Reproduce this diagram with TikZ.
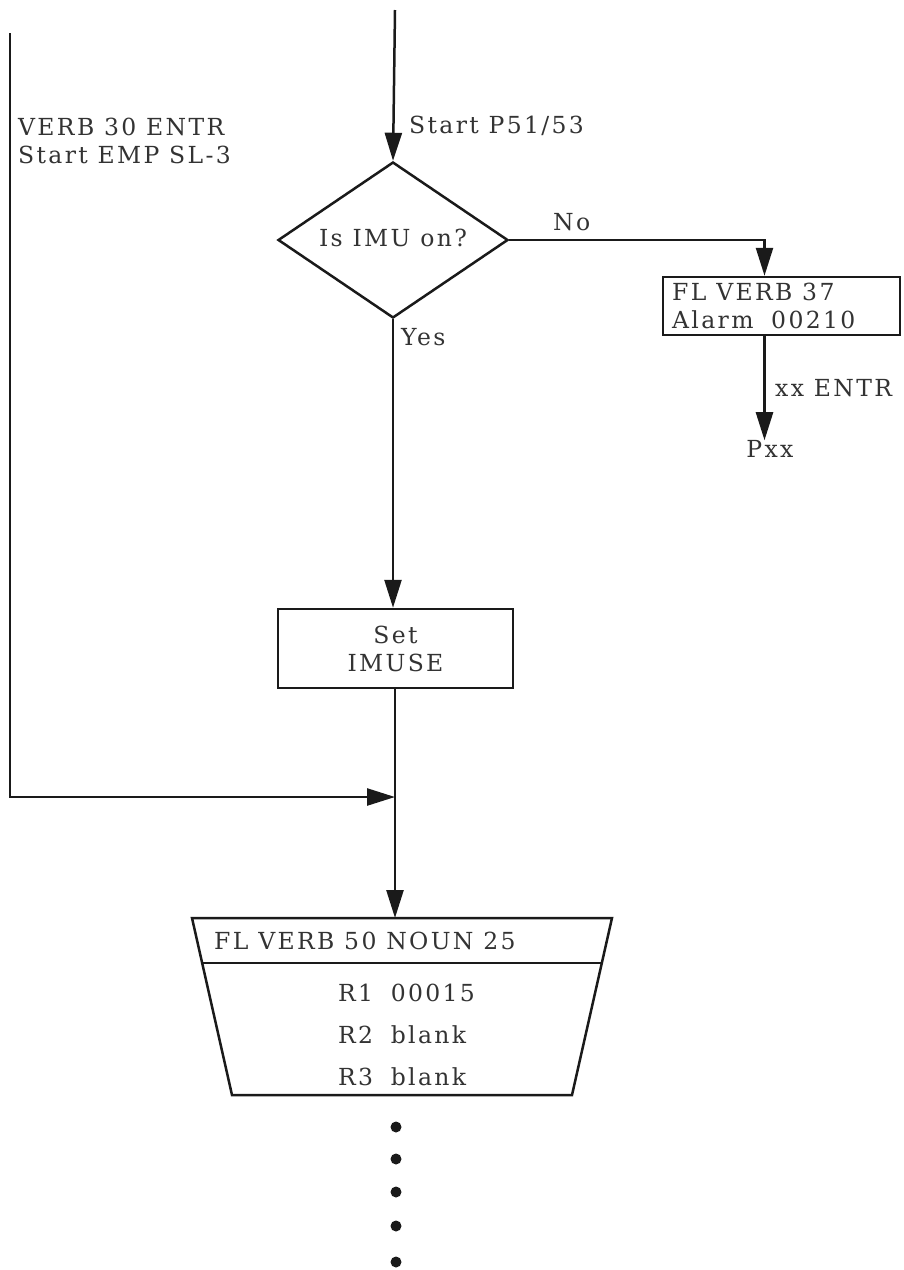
\documentclass[tikz,border=0pt]{standalone}
\usepackage{fontspec}
\setmainfont[LetterSpace=10]{DejaVu Serif}
\usetikzlibrary{shapes.geometric,arrows.meta,calc}
\definecolor{ink}{HTML}{1A1A1A}
\definecolor{txt}{HTML}{333333}
\tikzset{
  line/.style={draw=ink, line width=2.5pt},
  arr/.style={line, -{Triangle[length=28pt,width=17pt]}},
  box/.style={draw=ink, line width=2.5pt, rectangle, inner sep=0pt},
  lbl/.style={text=txt, font=\fontsize{23.5}{28}\selectfont, inner sep=0pt},
  dot/.style={circle, fill=ink, inner sep=0pt, minimum size=11pt}
}
\begin{document}
\begin{tikzpicture}[x=1pt,y=-1pt]
\useasboundingbox (0,0) rectangle (903,1270);
% nodes
\coordinate (top) at (395,10);
\node[draw=ink, line width=2.5pt, diamond, aspect=1.47, minimum width=230pt, minimum height=156pt, inner sep=0pt] (dia) at (393,240) {};
\node[lbl] (diat) at (393,238) {Is IMU on?};
\node[box, minimum width=237pt, minimum height=58pt] (b37) at (781.5,306) {};
\node[lbl, anchor=west, align=left] (b37t) at (672,306) {FL VERB 37\\Alarm\hspace{0.75em}00210};
\node[lbl] (pxx) at (770,449) {Pxx};
\node[box, minimum width=235pt, minimum height=79pt] (imuse) at (395.5,648.5) {};
\node[lbl, align=center] (imuset) at (395.5,649) {Set\\IMUSE};
\coordinate (lt) at (10,33);
\coordinate (merge) at (395,797);
% display trapezoid
\coordinate (tl) at (192,918);
\coordinate (tr) at (612,918);
\coordinate (br) at (572,1095);
\coordinate (bl) at (232,1095);
\coordinate (dl) at (202,963);
\coordinate (dr) at (602,963);
\coordinate (tz) at (395,918);
\draw[line, line join=miter] (tl) -- (tr) -- (br) -- (bl) -- cycle;
\draw[line] (dl) -- (dr);
\node[lbl, anchor=west] (hdr) at (214,941) {FL VERB 50 NOUN 25};
\node[lbl, anchor=west] (r1) at (338,993) {R1\hspace{0.75em}00015};
\node[lbl, anchor=west] (r2) at (338,1035) {R2\hspace{0.75em}blank};
\node[lbl, anchor=west] (r3) at (338,1077) {R3\hspace{0.75em}blank};
% dots
\node[dot] (d1) at (396,1127) {};
\node[dot] (d2) at (396,1159) {};
\node[dot] (d3) at (396,1192) {};
\node[dot] (d4) at (396,1226) {};
\node[dot] (d5) at (396,1262) {};
% connectors
\draw[arr] (top) -- (dia.north);
\node[lbl, anchor=west] (startl) at (409,126) {Start P51/53};
\draw[arr] (dia.east) -| ([xshift=-17pt]b37.north);
\node[lbl, anchor=west] (nol) at (553,222) {No};
\draw[arr] ([xshift=-17pt]b37.south) -- ([xshift=-17pt]b37.south |- pxx.north);
\node[lbl, anchor=west] (xxl) at (775,388) {xx ENTR};
\draw[arr] (dia.south) -- (dia.south |- imuse.north);
\node[lbl, anchor=west] (yesl) at (401,337) {Yes};
\draw[line] (imuse.south -| merge) -- (merge);
\draw[arr] (merge) -- (tz);
\draw[arr] (lt) |- (merge);
\node[lbl, anchor=north west, align=left] (verbl) at (18,118) {VERB 30 ENTR\\Start EMP SL-3};
\end{tikzpicture}
\end{document}
